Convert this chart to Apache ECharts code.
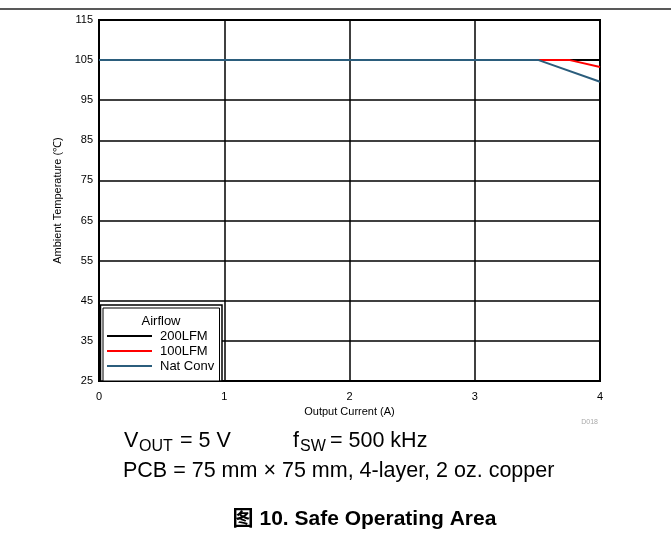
<!DOCTYPE html>
<html><head><meta charset="utf-8">
<script src="https://cdn.jsdelivr.net/npm/echarts@6/dist/echarts.min.js"></script>
<style>html,body{margin:0;padding:0;background:#fff}#c{width:671px;height:536px}</style>
</head><body><div id="c"></div>
<script>
const seriesNames = ['200LFM', '100LFM', 'Nat Conv'];
const seriesColors = ['#000000', '#ff0000', '#2b5d7c'];
const lfm200 = [[0, 105], [4, 105]];
const lfm100 = [[0, 105], [3.76, 105], [4, 103.3]];
const natConv = [[0, 105], [3.51, 105], [4, 99.6]];
const xTicks = [0, 1, 2, 3, 4];
const yTicks = [25, 35, 45, 55, 65, 75, 85, 95, 105, 115];

const FONT = 'Liberation Sans, Arial, sans-serif';
const chart = echarts.init(document.getElementById('c'), null, {renderer: 'canvas'});
const dataSets = [lfm200, lfm100, natConv];
chart.setOption({
  animation: false,
  textStyle: {fontFamily: FONT},
  grid: {left: 99, right: 71, top: 20, bottom: 155, show: true, borderColor: '#000', borderWidth: 2, backgroundColor: 'transparent'},
  xAxis: {
    type: 'value', min: xTicks[0], max: xTicks[xTicks.length - 1], interval: 1,
    name: 'Output Current (A)', nameLocation: 'middle', nameGap: 24,
    nameTextStyle: {fontSize: 11, color: '#000', fontFamily: FONT},
    axisLine: {show: true, lineStyle: {color: '#000', width: 2}},
    axisTick: {show: false},
    axisLabel: {fontSize: 11, color: '#000', margin: 10, fontFamily: FONT},
    splitLine: {show: true, lineStyle: {color: '#000', width: 1.5}}
  },
  yAxis: {
    type: 'value', min: yTicks[0], max: yTicks[yTicks.length - 1], interval: 10,
    name: 'Ambient Temperature (℃)', nameLocation: 'middle', nameGap: 36,
    nameTextStyle: {fontSize: 11, color: '#000', fontFamily: FONT},
    axisLine: {show: true, lineStyle: {color: '#000', width: 2}},
    axisTick: {show: false},
    axisLabel: {fontSize: 11, color: '#000', margin: 6, fontFamily: FONT},
    splitLine: {show: true, lineStyle: {color: '#000', width: 1.5}}
  },
  legend: {
    orient: 'vertical', left: 107, top: 329.5, itemWidth: 45, itemHeight: 2, itemGap: 2, padding: 0,
    icon: 'rect', data: seriesNames,
    textStyle: {fontSize: 13, color: '#000', fontFamily: FONT, padding: [0, 0, 0, 3]},
    z: 20
  },
  series: seriesNames.map((n, i) => ({
    name: n, type: 'line', data: dataSets[i], symbol: 'none',
    lineStyle: {color: seriesColors[i], width: 2}, itemStyle: {color: seriesColors[i]}, z: 3 + i
  })),
  graphic: [
    {type: 'line', shape: {x1: 0, y1: 9, x2: 671, y2: 9}, style: {stroke: '#222', lineWidth: 1.5}},
    {type: 'rect', shape: {x: 100.5, y: 305, width: 121.5, height: 76}, style: {fill: '#fff', stroke: '#000', lineWidth: 1.5}, z: 10},
    {type: 'rect', shape: {x: 103, y: 308, width: 116.5, height: 73}, style: {fill: '#fff', stroke: '#000', lineWidth: 1}, z: 11},
    {type: 'text', x: 161, y: 321, z: 12, style: {text: 'Airflow', font: '13px ' + FONT, fill: '#000', textAlign: 'center', textVerticalAlign: 'middle'}},
    {type: 'text', x: 598, y: 422, style: {text: 'D018', font: '7px ' + FONT, fill: '#aaa', textAlign: 'right', textVerticalAlign: 'middle'}},
    {type: 'text', x: 124, y: 452, style: {text: 'V', font: '21.5px ' + FONT, fill: '#000', textVerticalAlign: 'bottom'}},
    {type: 'text', x: 139, y: 455, style: {text: 'OUT', font: '16px ' + FONT, fill: '#000', textVerticalAlign: 'bottom'}},
    {type: 'text', x: 180, y: 452, style: {text: '= 5 V', font: '21.5px ' + FONT, fill: '#000', textVerticalAlign: 'bottom'}},
    {type: 'text', x: 293, y: 452, style: {text: 'f', font: '21.5px ' + FONT, fill: '#000', textVerticalAlign: 'bottom'}},
    {type: 'text', x: 300, y: 455, style: {text: 'SW', font: '16px ' + FONT, fill: '#000', textVerticalAlign: 'bottom'}},
    {type: 'text', x: 330, y: 452, style: {text: '= 500 kHz', font: '21.5px ' + FONT, fill: '#000', textVerticalAlign: 'bottom'}},
    {type: 'text', x: 123, y: 482, style: {text: 'PCB = 75 mm × 75 mm, 4-layer, 2 oz. copper', font: '21.5px ' + FONT, fill: '#000', textVerticalAlign: 'bottom'}},
    {type: 'text', x: 364.5, y: 530, style: {text: '图 10. Safe Operating Area', font: 'bold 21px "Liberation Sans", "Noto Sans CJK SC", sans-serif', fill: '#000', textAlign: 'center', textVerticalAlign: 'bottom'}}
  ]
});
</script></body></html>
